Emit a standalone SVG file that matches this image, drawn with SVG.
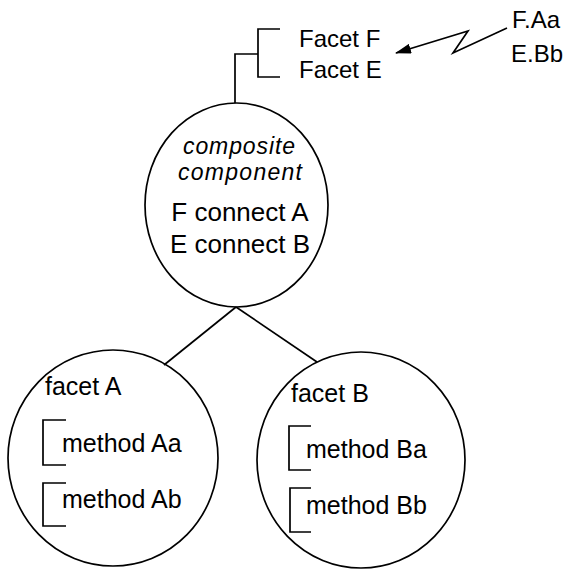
<svg xmlns="http://www.w3.org/2000/svg" width="567" height="574" viewBox="0 0 567 574">
  <style>
    .shape { fill: none; stroke: #000; stroke-width: 1.7; }
    .txt { font-family: "Liberation Sans", Arial, sans-serif; fill: #000; }
    .t24 { font-size: 24px; }
    .t25 { font-size: 25px; }
    .t26 { font-size: 26px; }
    .it { font-style: italic; font-size: 23px; text-anchor: middle; }
    .mid { text-anchor: middle; }
  </style>
  <defs>
    <marker id="arrowhead" viewBox="0 0 16 10" refX="15" refY="5" markerWidth="16" markerHeight="10" markerUnits="userSpaceOnUse" orient="auto">
      <path d="M0,0 L16,5 L0,10 Z" fill="#000"/>
    </marker>
  </defs>

  <rect width="567" height="574" fill="#fff"/>

  <!-- connectors -->
  <g id="connectors">
    <!-- exported facets bracket linked to the composite -->
    <path class="shape" d="M280,29 H258 V77 H280"/>
    <path class="shape" d="M258,54 H235 V103"/>
    <!-- composite to its sub-components -->
    <path class="shape" d="M236,307 L164,365"/>
    <path class="shape" d="M236,307 L317,362"/>
    <!-- invocation zigzag into the facets -->
    <path class="shape" d="M507,28 L453,53 L468,31 L396,53" marker-end="url(#arrowhead)"/>
  </g>

  <!-- exported facets -->
  <g id="facets-FE">
    <text class="txt t24" x="299" y="47">Facet F</text>
    <text class="txt t24" x="299" y="78">Facet E</text>
  </g>

  <!-- calls -->
  <g id="calls">
    <text class="txt t24" x="512" y="28">F.Aa</text>
    <text class="txt t24" x="511" y="62">E.Bb</text>
  </g>

  <!-- composite component -->
  <g id="composite">
    <ellipse class="shape" cx="236.5" cy="205" rx="91.5" ry="102"/>
    <text class="txt it" x="239" y="154" textLength="112">composite</text>
    <text class="txt it" x="240" y="180" textLength="124">component</text>
    <text class="txt t26 mid" x="240" y="221">F connect A</text>
    <text class="txt t26 mid" x="240" y="253">E connect B</text>
  </g>

  <!-- facet A -->
  <g id="facetA">
    <ellipse class="shape" cx="113" cy="458" rx="105" ry="108"/>
    <text class="txt t25" x="45" y="395">facet A</text>
    <path class="shape" d="M66,420 H43 V465 H66"/>
    <text class="txt t25" x="62" y="452">method Aa</text>
    <path class="shape" d="M66,483 H43 V526 H66"/>
    <text class="txt t25" x="62" y="508">method Ab</text>
  </g>

  <!-- facet B -->
  <g id="facetB">
    <ellipse class="shape" cx="361" cy="460" rx="104" ry="108"/>
    <text class="txt t25" x="291" y="402">facet B</text>
    <path class="shape" d="M311,426 H289 V470 H311"/>
    <text class="txt t25" x="306" y="458">method Ba</text>
    <path class="shape" d="M311,488 H290 V532 H311"/>
    <text class="txt t25" x="306" y="514">method Bb</text>
  </g>
</svg>
